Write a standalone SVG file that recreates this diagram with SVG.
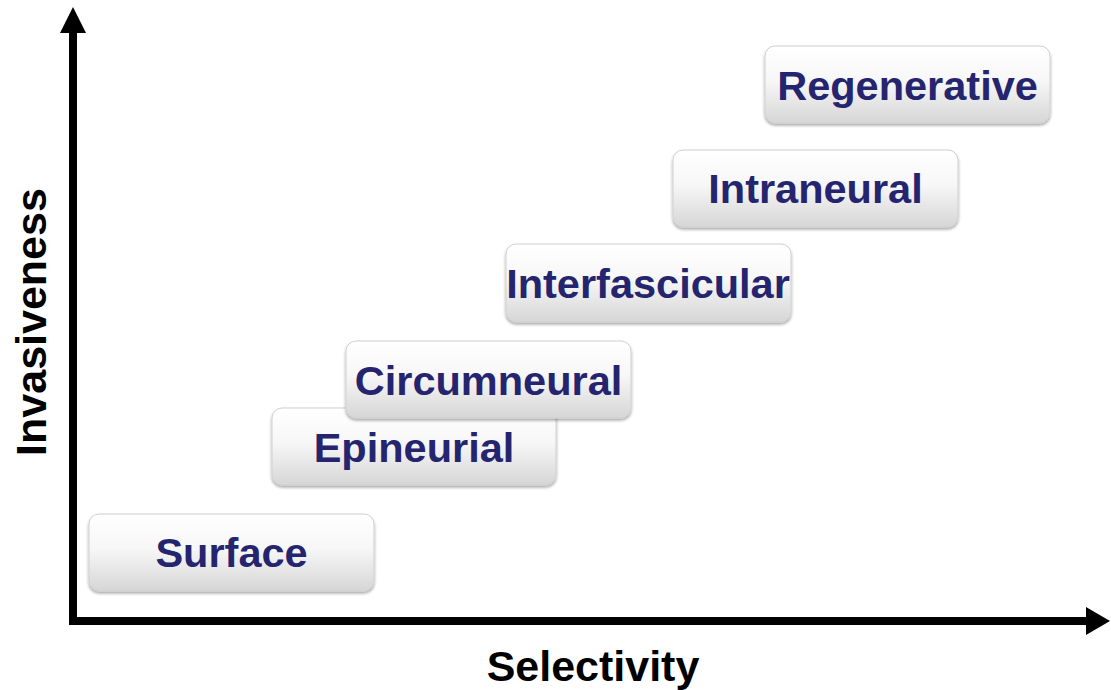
<svg xmlns="http://www.w3.org/2000/svg" width="1111" height="690" viewBox="0 0 1111 690">
<defs>
<linearGradient id="g" x1="0" y1="0" x2="0" y2="1">
<stop offset="0" stop-color="#ffffff"/>
<stop offset="0.45" stop-color="#f7f7f7"/>
<stop offset="1" stop-color="#d6d6d6"/>
</linearGradient>
<filter id="sh" x="-5%" y="-10%" width="110%" height="125%">
<feGaussianBlur in="SourceAlpha" stdDeviation="1.5"/>
<feOffset dx="0" dy="2" result="b"/>
<feComponentTransfer><feFuncA type="linear" slope="0.35"/></feComponentTransfer>
<feMerge><feMergeNode/><feMergeNode in="SourceGraphic"/></feMerge>
</filter>
</defs>
<style>
.box{fill:url(#g);stroke:#d0d0d0;stroke-width:1;filter:url(#sh)}
.lbl{font-family:"Liberation Sans",Arial,sans-serif;font-weight:bold;font-size:41.5px;fill:#25256f;text-anchor:middle}
.ax{font-family:"Liberation Sans",Arial,sans-serif;font-weight:bold;font-size:43px;fill:#000;text-anchor:middle}
</style>
<rect width="1111" height="690" fill="#fff"/>
<g id="axes">
<line x1="73" y1="28" x2="73" y2="625" stroke="#000" stroke-width="8"/>
<line x1="69" y1="621" x2="1090" y2="621" stroke="#000" stroke-width="8"/>
<polygon points="73,7 86,33 60,33" fill="#000"/>
<polygon points="1110,621 1086,607 1086,635" fill="#000"/>
</g>
<g id="surface"><rect class="box" x="89" y="514" width="285" height="77" rx="10"/><text class="lbl" x="231.5" y="567">Surface</text></g>
<g id="epineurial"><rect class="box" x="272" y="408" width="284" height="77" rx="10"/><text class="lbl" x="414" y="462">Epineurial</text></g>
<g id="circumneural"><rect class="box" x="346" y="341" width="285" height="77" rx="10"/><text class="lbl" x="488.5" y="395">Circumneural</text></g>
<g id="interfascicular"><rect class="box" x="506" y="244" width="285" height="78" rx="10"/><text class="lbl" x="648" y="298">Interfascicular</text></g>
<g id="intraneural"><rect class="box" x="673" y="150" width="285" height="77" rx="10"/><text class="lbl" x="815.5" y="203">Intraneural</text></g>
<g id="regenerative"><rect class="box" x="765" y="46" width="285" height="77" rx="10"/><text class="lbl" x="907.5" y="100">Regenerative</text></g>
<text class="ax" x="593" y="681">Selectivity</text>
<text class="ax" transform="translate(46,322) rotate(-90)">Invasiveness</text>
</svg>
